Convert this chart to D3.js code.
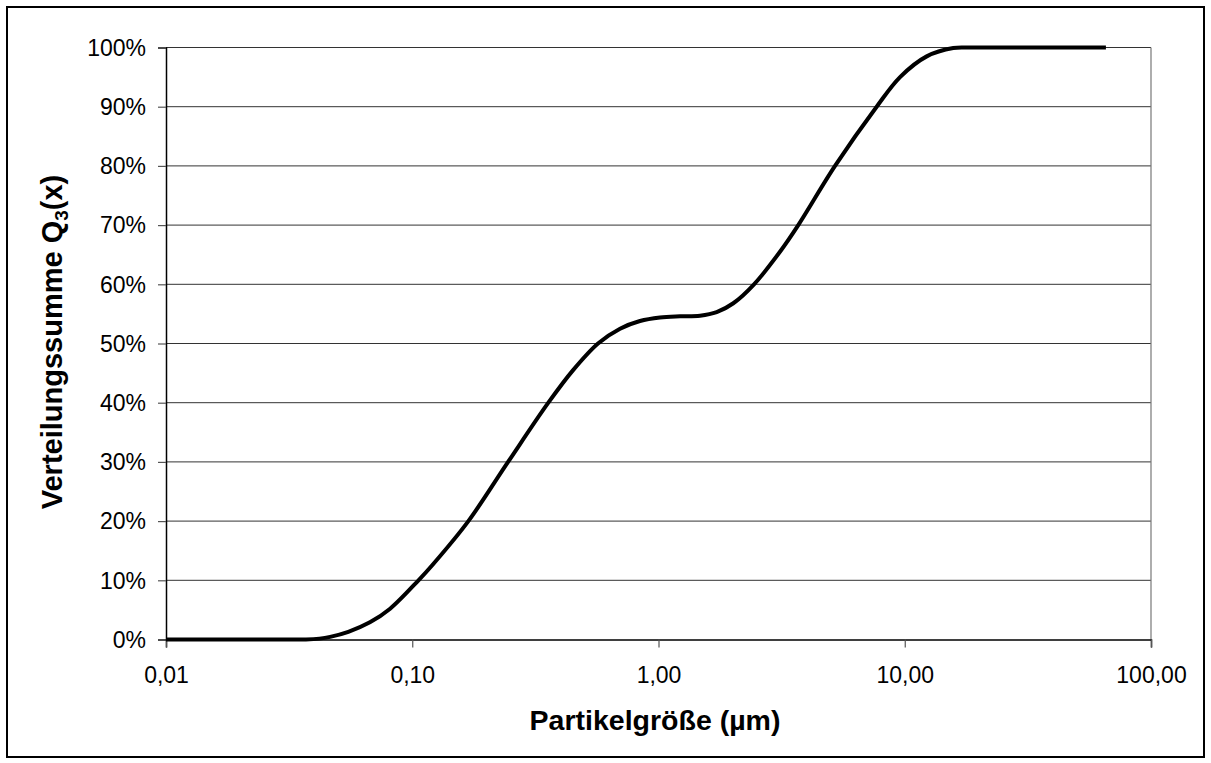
<!DOCTYPE html>
<html><head><meta charset="utf-8">
<script src="https://cdn.jsdelivr.net/npm/d3@7"></script>
<style>body{margin:0;background:#fff} svg{display:block} text{font-family:"Liberation Sans",Arial,sans-serif;fill:#000}</style>
</head><body><svg id="c" width="1211" height="763"></svg>
<script>
// Data
const particleSize = [0.01, 0.02, 0.03, 0.037, 0.042, 0.0464, 0.055, 0.0673, 0.0813, 0.106, 0.122, 0.169, 0.245, 0.357, 0.45, 0.568, 0.698, 0.841, 1.014, 1.223, 1.474, 1.723, 2.013, 2.443, 3.114, 3.695, 5.21, 7.69, 9.57, 12.28, 15.74, 18, 30, 45, 65.6];
const cumulativePct = [0, 0, 0, 0, 0.15, 0.45, 1.3, 2.9, 5.2, 10, 12.8, 20, 30, 40, 45.5, 50, 52.5, 53.8, 54.4, 54.6, 54.7, 55.3, 56.8, 60, 65.5, 70, 80, 90, 95, 98.5, 99.9, 100, 100, 100, 100];
const xTicks = [0.01, 0.1, 1, 10, 100];
const xTickLabels = ["0,01", "0,10", "1,00", "10,00", "100,00"];
const yTicks = [0, 10, 20, 30, 40, 50, 60, 70, 80, 90, 100];
const yTickLabels = ["0%", "10%", "20%", "30%", "40%", "50%", "60%", "70%", "80%", "90%", "100%"];
const xTitle = "Partikelgröße (µm)";
const yTitleMain = "Verteilungssumme Q";
const yTitleSub = "3";
const yTitleEnd = "(x)";

const svg = d3.select("#c");
const L = 166, R = 1151, T = 47.5, B = 639.5;

svg.append("rect").attr("x", 7).attr("y", 7).attr("width", 1197).attr("height", 750)
  .attr("fill", "#fff").attr("stroke", "#000").attr("stroke-width", 2);

const x = d3.scaleLog().domain([0.01, 100]).range([L, R]);
const y = d3.scaleLinear().domain([0, 100]).range([B, T]);

// gridlines
svg.append("g").selectAll("line").data(yTicks.filter(d => d > 0)).join("line")
  .attr("x1", L).attr("x2", R).attr("y1", d => y(d)).attr("y2", d => y(d))
  .attr("stroke", "#333").attr("stroke-width", 1);

// right border of plot area
svg.append("line").attr("x1", R).attr("x2", R).attr("y1", T).attr("y2", B)
  .attr("stroke", "#777").attr("stroke-width", 1.2);

// y axis
const yAxis = d3.axisLeft(y).tickValues(yTicks).tickSize(8).tickPadding(12)
  .tickFormat((d, i) => yTickLabels[i]);
const gy = svg.append("g").attr("transform", `translate(${L},0)`).call(yAxis);
gy.select(".domain").attr("stroke", "#000").attr("stroke-width", 1.5);
gy.selectAll(".tick line").attr("stroke", "#555").attr("stroke-width", 1.2);
gy.selectAll(".tick text").style("font-size", "23px").attr("font-family", null).attr("dy", "0.34em");

// x axis
const xAxis = d3.axisBottom(x).tickValues(xTicks).tickSize(8).tickPadding(19)
  .tickFormat((d, i) => xTickLabels[i]);
const gx = svg.append("g").attr("transform", `translate(0,${B})`).call(xAxis);
gx.select(".domain").attr("stroke", "#000").attr("stroke-width", 1.5);
gx.selectAll(".tick line").attr("stroke", "#555").attr("stroke-width", 1.2);
gx.selectAll(".tick text").style("font-size", "23px").attr("font-family", null);

// curve
const line = d3.line().x((d, i) => x(particleSize[i])).y(d => y(d)).curve(d3.curveCatmullRom.alpha(0.5));
svg.append("path").datum(cumulativePct).attr("d", line)
  .attr("fill", "none").attr("stroke", "#000").attr("stroke-width", 4).attr("stroke-linejoin", "round");

// titles
svg.append("text").attr("x", 655).attr("y", 730).attr("text-anchor", "middle")
  .style("font-size", "28.5px").style("font-weight", "bold").text(xTitle);

const yt = svg.append("text").attr("transform", "translate(62,342) rotate(-90)").attr("text-anchor", "middle")
  .style("font-size", "29px").style("font-weight", "bold");
yt.append("tspan").text(yTitleMain);
yt.append("tspan").attr("dy", 6).style("font-size", "19px").text(yTitleSub);
yt.append("tspan").attr("dy", -6).text(yTitleEnd);
</script></body></html>
